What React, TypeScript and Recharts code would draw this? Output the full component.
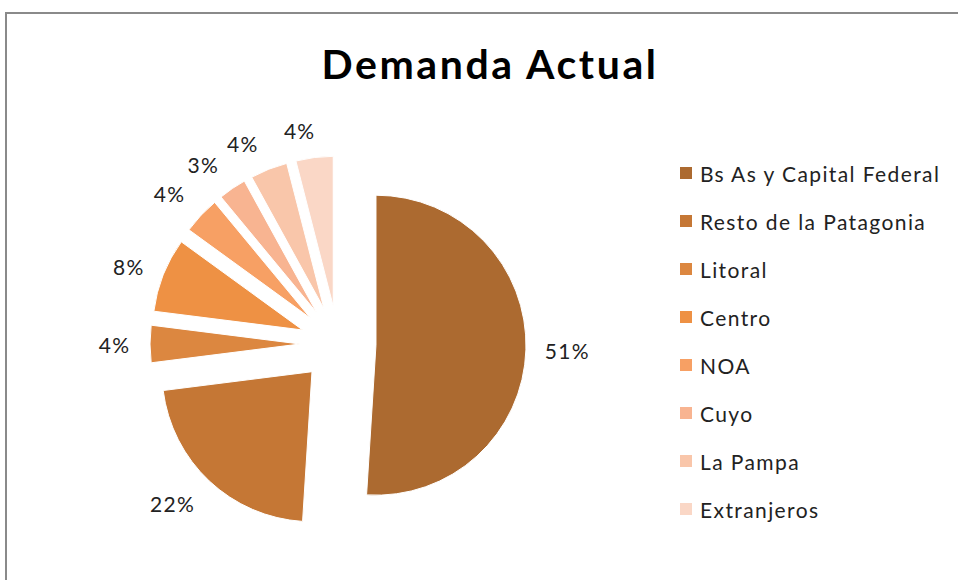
import { PieChart, Pie, Cell, Sector, Legend } from "recharts";

const regions = [
  "Bs As y Capital Federal",
  "Resto de la Patagonia",
  "Litoral",
  "Centro",
  "NOA",
  "Cuyo",
  "La Pampa",
  "Extranjeros",
];
const shares = [51, 22, 4, 8, 4, 3, 4, 4];
const colors = ["#AC6A30", "#C57735", "#DC8740", "#EE9144", "#F7A064", "#F8B491", "#F9C6AA", "#FAD7C6"];

const data = regions.map((name, i) => ({ name, value: shares[i] }));

const RAD = Math.PI / 180;
const EXPLODE = 38;
const FONT = "Lato, 'Open Sans', sans-serif";

function ExplodedSlice(props: any) {
  const { cx, cy, midAngle, innerRadius, outerRadius, startAngle, endAngle, fill } = props;
  const dx = EXPLODE * Math.cos(midAngle * RAD);
  const dy = -EXPLODE * Math.sin(midAngle * RAD);
  return (
    <Sector
      cx={cx + dx}
      cy={cy + dy}
      innerRadius={innerRadius}
      outerRadius={outerRadius}
      startAngle={startAngle}
      endAngle={endAngle}
      fill={fill}
      stroke="#fff"
      strokeWidth={1}
    />
  );
}

// outside-end label, box pushed away from the slice corner like Excel does
function renderLabel(props: any) {
  const { cx, cy, midAngle, outerRadius, percent } = props;
  const ux = Math.cos(midAngle * RAD);
  const uy = -Math.sin(midAngle * RAD);
  const text = `${Math.round(percent * 100)}%`;
  const halfW = text.length === 2 ? 17.5 : 23.5;
  const dist = EXPLODE + outerRadius + 15;
  const xOff = (halfW + 3) * Math.sign(ux) * Math.min(1, Math.abs(ux) * 5);
  const yOff = 12 * Math.sign(uy) * Math.max(0, Math.min(1, (Math.abs(uy) - 0.3) * 3));
  return (
    <text
      x={cx + dist * ux + xOff}
      y={cy + dist * uy + yOff}
      textAnchor="middle"
      dominantBaseline="central"
      fontFamily={FONT}
      fontSize={21}
      letterSpacing={1.3}
      fill="#222"
    >
      {text}
    </text>
  );
}

function LegendList() {
  return (
    <div style={{ fontFamily: FONT, fontSize: 21, letterSpacing: 1.4, color: "#222" }}>
      {regions.map((name, i) => (
        <div key={name} style={{ display: "flex", alignItems: "center", height: 48, whiteSpace: "nowrap" }}>
          <span style={{ width: 12, height: 12, background: colors[i], display: "inline-block", marginRight: 8 }} />
          {name}
        </div>
      ))}
    </div>
  );
}

export default function App() {
  return (
    <div style={{ position: "absolute", left: 0, top: 0, width: 958, height: 580, overflow: "hidden", background: "#fff" }}>
      <div
        style={{
          position: "absolute",
          left: 5,
          top: 12,
          width: 1000,
          height: 700,
          border: "2px solid #8a8a8a",
          boxSizing: "border-box",
        }}
      />
      <div
        style={{
          position: "absolute",
          left: 0,
          top: 39,
          width: 980,
          textAlign: "center",
          fontFamily: FONT,
          fontWeight: 700,
          fontSize: 41,
          letterSpacing: 2.6,
          color: "#000",
        }}
      >
        Demanda Actual
      </div>
      <div style={{ position: "absolute", left: 0, top: 0 }}>
        <PieChart width={958} height={580}>
          <Pie
            data={data}
            dataKey="value"
            nameKey="name"
            cx={333}
            cy={339}
            outerRadius={150}
            startAngle={90}
            endAngle={-270}
            shape={ExplodedSlice}
            label={renderLabel}
            labelLine={false}
            isAnimationActive={false}
          >
            {data.map((_, i) => (
              <Cell key={i} fill={colors[i]} />
            ))}
          </Pie>
          <Legend
            layout="vertical"
            align="right"
            verticalAlign="top"
            content={LegendList}
            wrapperStyle={{ left: 680, top: 149, width: 278 }}
          />
        </PieChart>
      </div>
    </div>
  );
}
